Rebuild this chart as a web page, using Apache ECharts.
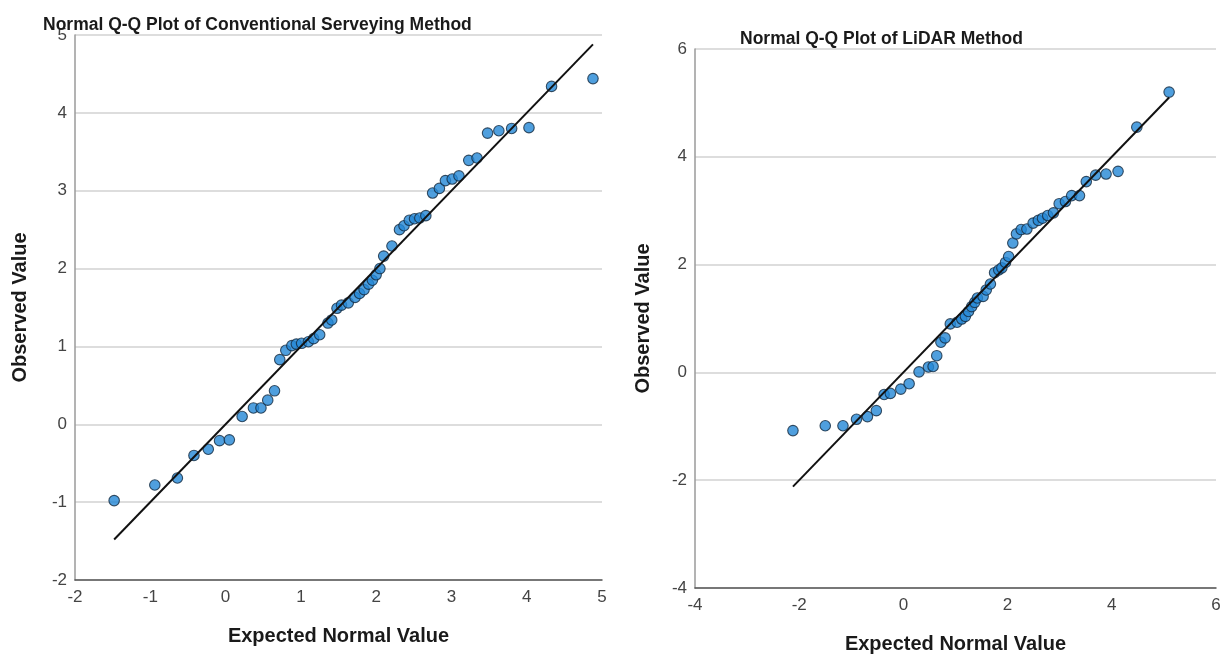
<!DOCTYPE html>
<html>
<head>
<meta charset="utf-8">
<title>Normal Q-Q Plots</title>
<script src="https://cdn.jsdelivr.net/npm/echarts@6/dist/echarts.min.js"></script>
<style>
  html, body { margin: 0; padding: 0; background: #ffffff; }
  #chart { width: 1225px; height: 660px; }
</style>
</head>
<body>
<div id="chart"></div>
<script>
// Conventional surveying method: expected normal value vs observed value
const convExpected = [-1.48, -0.94, -0.64, -0.42, -0.23, -0.08, 0.05, 0.22, 0.37, 0.47,
  0.56, 0.65, 0.72, 0.80, 0.88, 0.94, 1.01, 1.10, 1.17, 1.25,
  1.36, 1.41, 1.48, 1.54, 1.63, 1.72, 1.78, 1.84, 1.90, 1.95,
  2.00, 2.05, 2.10, 2.21, 2.31, 2.37, 2.44, 2.51, 2.58, 2.66,
  2.75, 2.84, 2.92, 3.01, 3.10, 3.23, 3.34, 3.48, 3.63, 3.80,
  4.03, 4.33, 4.88];
const convObserved = [-0.98, -0.78, -0.69, -0.40, -0.32, -0.21, -0.20, 0.10, 0.21, 0.21,
  0.31, 0.43, 0.83, 0.95, 1.01, 1.03, 1.04, 1.06, 1.10, 1.15,
  1.30, 1.34, 1.49, 1.53, 1.56, 1.63, 1.68, 1.73, 1.80, 1.85,
  1.92, 2.00, 2.16, 2.29, 2.50, 2.55, 2.62, 2.64, 2.65, 2.68,
  2.97, 3.03, 3.13, 3.15, 3.19, 3.39, 3.42, 3.74, 3.77, 3.80,
  3.81, 4.34, 4.44];

// LiDAR method: expected normal value vs observed value
const lidarExpected = [-2.12, -1.50, -1.16, -0.90, -0.69, -0.52, -0.37, -0.25, -0.05, 0.11,
  0.30, 0.48, 0.57, 0.64, 0.72, 0.80, 0.90, 1.03, 1.12, 1.19,
  1.25, 1.31, 1.37, 1.42, 1.53, 1.59, 1.67, 1.75, 1.83, 1.89,
  1.96, 2.02, 2.10, 2.17, 2.26, 2.37, 2.49, 2.59, 2.67, 2.77,
  2.88, 2.99, 3.11, 3.23, 3.38, 3.51, 3.69, 3.89, 4.12, 4.48,
  5.10];
const lidarObserved = [-1.08, -0.99, -0.99, -0.87, -0.82, -0.71, -0.41, -0.39, -0.31, -0.21,
  0.01, 0.10, 0.11, 0.31, 0.56, 0.64, 0.90, 0.93, 0.99, 1.04,
  1.13, 1.22, 1.30, 1.38, 1.41, 1.53, 1.64, 1.85, 1.90, 1.94,
  2.04, 2.15, 2.40, 2.57, 2.65, 2.66, 2.77, 2.82, 2.86, 2.91,
  2.96, 3.13, 3.17, 3.28, 3.28, 3.54, 3.66, 3.68, 3.73, 4.55,
  5.20];

// Axis ranges and tick spacing
const convRange = { min: -2, max: 5, step: 1 };
const lidarRange = { min: -4, max: 6, step: 2 };

const titles = ['Normal Q-Q Plot of Conventional Serveying Method', 'Normal Q-Q Plot of LiDAR Method'];
const xName = 'Expected Normal Value';
const yName = 'Observed Value';

const FONT = "'Liberation Sans', Arial, sans-serif";

function pairs(xs, ys) { return xs.map((x, i) => [x, ys[i]]); }
// reference line y = x across the range of expected values
function refLine(xs) {
  const lo = Math.min(...xs), hi = Math.max(...xs);
  return [[lo, lo], [hi, hi]];
}

function xAxisCfg(gridIndex, r) {
  return {
    gridIndex, type: 'value', min: r.min, max: r.max, interval: r.step,
    name: xName, nameLocation: 'middle', nameGap: 46,
    nameTextStyle: { fontFamily: FONT, fontWeight: 'bold', fontSize: 20, color: '#1a1a1a' },
    axisLine: { onZero: false, lineStyle: { color: '#555555', width: 1.5 } },
    axisTick: { show: false },
    axisLabel: { fontFamily: FONT, fontSize: 17, color: '#444444', margin: 9 },
    splitLine: { show: false }
  };
}
function yAxisCfg(gridIndex, r, gap) {
  return {
    gridIndex, type: 'value', min: r.min, max: r.max, interval: r.step,
    name: yName, nameLocation: 'middle', nameGap: gap,
    nameTextStyle: { fontFamily: FONT, fontWeight: 'bold', fontSize: 20, color: '#1a1a1a' },
    axisLine: { show: true, onZero: false, lineStyle: { color: '#9a9a9a', width: 1.5 } },
    axisTick: { show: false },
    axisLabel: { fontFamily: FONT, fontSize: 17, color: '#444444', margin: 8, padding: [6, 0, 0, 0] },
    splitLine: { show: true, lineStyle: { color: '#d2d2d2', width: 1.5 } }
  };
}

const pointStyle = { color: '#2387d6', borderColor: '#13293f', borderWidth: 1.1 };

const option = {
  backgroundColor: '#ffffff',
  animation: false,
  title: [
    { text: titles[0], left: 38, top: 11,
      textStyle: { fontFamily: FONT, fontWeight: 'bold', fontSize: 17.5, color: '#1a1a1a' } },
    { text: titles[1], left: 735, top: 25,
      textStyle: { fontFamily: FONT, fontWeight: 'bold', fontSize: 17.5, color: '#1a1a1a' } }
  ],
  grid: [
    { left: 75, right: 623, top: 35, bottom: 80 },
    { left: 695, right: 9, top: 49, bottom: 72 }
  ],
  xAxis: [xAxisCfg(0, convRange), xAxisCfg(1, lidarRange)],
  yAxis: [yAxisCfg(0, convRange, 45), yAxisCfg(1, lidarRange, 42)],
  series: [
    { type: 'scatter', xAxisIndex: 0, yAxisIndex: 0, symbolSize: 10.5,
      data: pairs(convExpected, convObserved), itemStyle: pointStyle, z: 2 },
    { type: 'line', xAxisIndex: 0, yAxisIndex: 0, data: refLine(convExpected),
      symbol: 'none', lineStyle: { color: '#111111', width: 2 }, z: 3 },
    { type: 'scatter', xAxisIndex: 1, yAxisIndex: 1, symbolSize: 10.5,
      data: pairs(lidarExpected, lidarObserved), itemStyle: pointStyle, z: 2 },
    { type: 'line', xAxisIndex: 1, yAxisIndex: 1, data: refLine(lidarExpected),
      symbol: 'none', lineStyle: { color: '#111111', width: 2 }, z: 3 }
  ]
};

const chart = echarts.init(document.getElementById('chart'), null, { renderer: 'canvas' });
chart.setOption(option);
</script>
</body>
</html>
